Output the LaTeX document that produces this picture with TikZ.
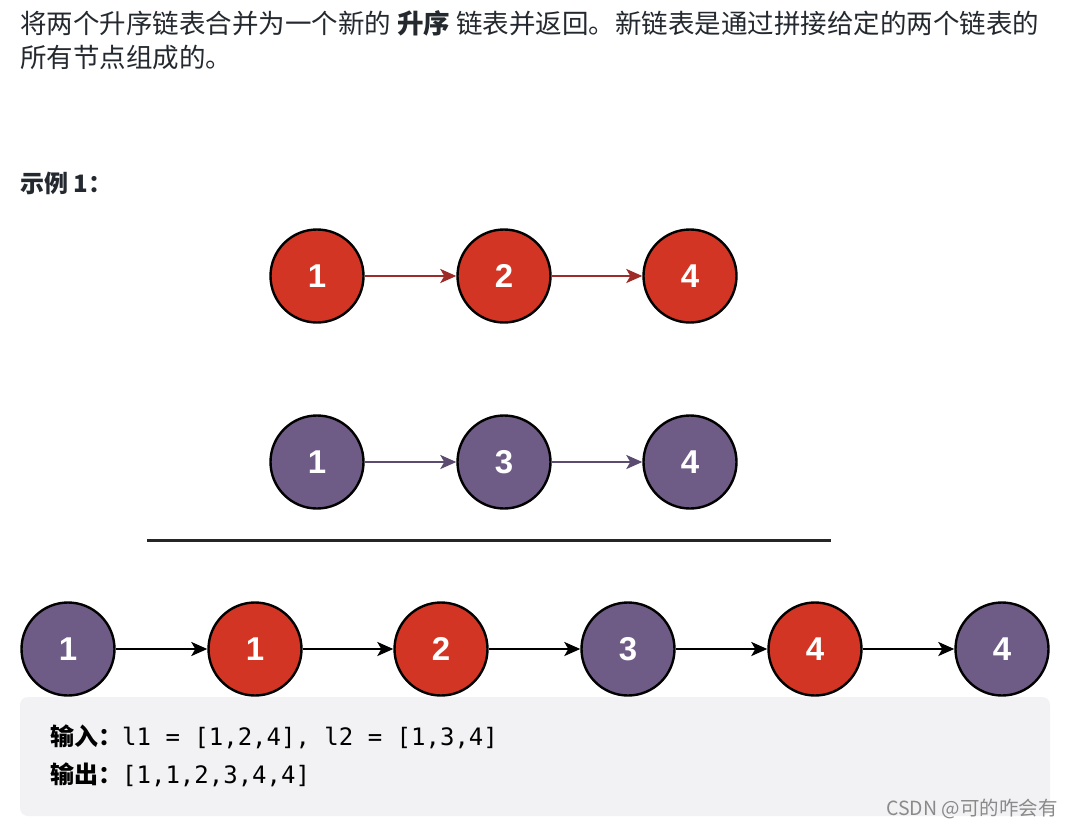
\documentclass[tikz,border=0pt]{standalone}
\usepackage{fontspec}
\setmainfont{Noto Sans CJK SC}
\setmonofont{DejaVu Sans Mono}
\newfontfamily\numfont{Liberation Sans}
\usetikzlibrary{arrows.meta}
\definecolor{nred}{HTML}{D23523}
\definecolor{npurple}{HTML}{6E5C86}
\definecolor{ared}{HTML}{9E2B27}
\definecolor{apurple}{HTML}{5B4B70}
\definecolor{txt}{HTML}{24292F}
\definecolor{codebg}{HTML}{F2F2F4}
\definecolor{wm}{HTML}{8A8A8A}
\tikzset{
  lnode/.style={circle, draw=black, line width=2.4pt, minimum size=93pt, inner sep=0pt,
    text=white, font=\numfont\fontsize{33}{33}\selectfont\bfseries},
  rednode/.style={lnode, fill=nred},
  purnode/.style={lnode, fill=npurple},
  link/.style={line width=2.2pt, -{Stealth[length=16pt,width=14pt,inset=4pt]}},
  para/.style={anchor=base west, inner sep=0pt, text=txt, font=\fontsize{26.5}{26.5}\selectfont},
  code/.style={anchor=base west, inner sep=0pt, text=black, font=\fontsize{24}{24}\selectfont}
}
\begin{document}
\begin{tikzpicture}[x=1pt,y=-1pt]
\useasboundingbox[fill=white] (0,0) rectangle (1074,828);
% description
\node[para] (t1) at (20,33) {将两个升序链表合并为一个新的 \textbf{升序} 链表并返回。新链表是通过拼接给定的两个链表的};
\node[para] (t2) at (20,67) {所有节点组成的。};
\node[para, font=\fontsize{24}{24}\selectfont\bfseries] (ex) at (20,192) {示例 1：};
% list 1
\node[rednode] (a1) at (317,276) {1};
\node[rednode] (a2) at (504,276) {2};
\node[rednode] (a3) at (690,276) {4};
\draw[link, ared] (a1) -- (a2);
\draw[link, ared] (a2) -- (a3);
% list 2
\node[purnode] (b1) at (317,462) {1};
\node[purnode] (b2) at (504,462) {3};
\node[purnode] (b3) at (690,462) {4};
\draw[link, apurple] (b1) -- (b2);
\draw[link, apurple] (b2) -- (b3);
% separator
\coordinate (s1) at (147,540);
\coordinate (s2) at (831,540);
\draw[line width=3pt, black!85] (s1) -- (s2);
% code box
\fill[codebg, rounded corners=8pt] (20,697) rectangle (1050,816);
\node[code] (c1) at (50,745) {\textbf{输入：}\ttfamily l1 = [1,2,4], l2 = [1,3,4]};
\node[code] (c2) at (50,783) {\textbf{输出：}\ttfamily [1,1,2,3,4,4]};
% merged list
\node[purnode] (m1) at (68,649) {1};
\node[rednode]  (m2) at (255,649) {1};
\node[rednode]  (m3) at (441,649) {2};
\node[purnode] (m4) at (628,649) {3};
\node[rednode]  (m5) at (815,649) {4};
\node[purnode] (m6) at (1002,649) {4};
\foreach \p/\q in {m1/m2,m2/m3,m3/m4,m4/m5,m5/m6}
  \draw[link, black] (\p) -- (\q);
% watermark
\node[anchor=base east, inner sep=0pt, text=wm, font=\fontsize{19.5}{19.5}\selectfont] (wmk) at (1058,815) {CSDN @可的咋会有};
\end{tikzpicture}
\end{document}
